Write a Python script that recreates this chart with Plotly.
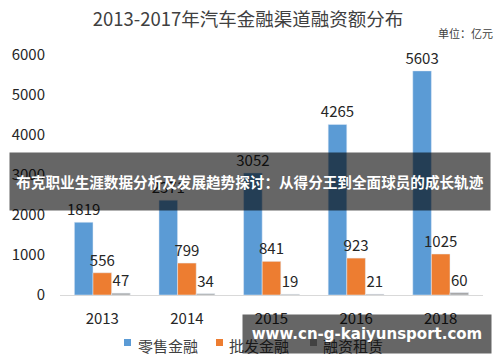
import plotly.graph_objects as go

years = ["2013", "2014", "2015", "2016", "2018"]
retail = [1819, 2371, 3052, 4265, 5603]
wholesale = [556, 799, 841, 923, 1025]
leasing = [47, 34, 19, 21, 60]
series_names = ["零售金融", "批发金融", "融资租赁"]
colors = ["#5B9BD5", "#ED7D31", "#A5A5A5"]
yticks = [0, 1000, 2000, 3000, 4000, 5000, 6000]

FONT = "Noto Sans CJK SC"
TXT = "#404040"
DARK = "#262626"

fig = go.Figure()
for name, vals, c in zip(series_names, [retail, wholesale, leasing], colors):
    fig.add_trace(go.Bar(
        x=years, y=vals, name=name, marker_color=c,
        text=[str(v) for v in vals], textposition="outside", constraintext="none",
        textfont=dict(size=15, color=DARK, family=FONT),
        cliponaxis=False, showlegend=False,
    ))

# plot area: x 60..483 px, y 55..295 px
def px_x(px):
    return (px - 60) / 423.0

def px_y(py):
    return (295 - py) / 240.0

fig.update_layout(
    width=500, height=362,
    margin=dict(l=60, r=17, t=55, b=67),
    paper_bgcolor="white", plot_bgcolor="white",
    barmode="group", bargap=0.34, bargroupgap=0,
    font=dict(family=FONT, color=TXT),
    title=dict(text="2013-2017年汽车金融渠道融资额分布", x=248/500, xanchor="center",
               y=1 - 20/362, yanchor="middle", xref="container", yref="container",
               font=dict(size=18.5, color=TXT, family=FONT)),
    showlegend=False,
)
fig.update_xaxes(showline=True, linecolor="#D9D9D9", linewidth=1, showgrid=False,
                 ticks="", tickfont=dict(size=15, color=DARK), ticklabelstandoff=10,
                 automargin=False)
fig.update_yaxes(range=[0, 6000], tickvals=yticks, showgrid=False, zeroline=False,
                 showline=False, ticks="", tickfont=dict(size=15, color=DARK),
                 ticklabelstandoff=14, automargin=False)

fig.add_annotation(text="单位：亿元", xref="paper", yref="paper", x=px_x(465), y=px_y(33),
                   xanchor="center", yanchor="middle", showarrow=False,
                   font=dict(size=11, color=TXT, family=FONT))

# manual legend (squares + labels)
leg_sq_x = [124, 216, 310]
leg_tx_x = [136, 227, 321]
for name, c, sx, tx in zip(series_names, colors, leg_sq_x, leg_tx_x):
    fig.add_shape(type="rect", xref="paper", yref="paper",
                  x0=px_x(sx), x1=px_x(sx + 7), y0=px_y(346), y1=px_y(339),
                  fillcolor=c, line=dict(width=0), layer="above")
    fig.add_annotation(text=name, xref="paper", yref="paper", x=px_x(tx), y=px_y(345),
                       xanchor="left", yanchor="middle", showarrow=False,
                       font=dict(size=15, color=TXT, family=FONT))

# overlay banner
fig.add_annotation(text="<b>布克职业生涯数据分析及发展趋势探讨：从得分王到全面球员的成长轨迹</b>",
                   xref="paper", yref="paper", x=px_x(250), y=px_y(181),
                   xanchor="center", yanchor="middle", showarrow=False,
                   width=480, height=57, borderpad=0, bgcolor="rgba(0,0,0,0.6)",
                   font=dict(size=14.6, color="white", family=FONT))
# watermark
fig.add_annotation(text="<b>www.cn-g-kaiyunsport.com</b>",
                   xref="paper", yref="paper", x=px_x(367), y=px_y(334),
                   xanchor="center", yanchor="middle", showarrow=False,
                   width=248, height=38, borderpad=0, bgcolor="rgba(0,0,0,0.6)",
                   font=dict(size=15, color="white", family="DejaVu Sans"))

fig.write_html("out.html", config={"displayModeBar": False},
               post_script="document.body.style.margin='0';")
